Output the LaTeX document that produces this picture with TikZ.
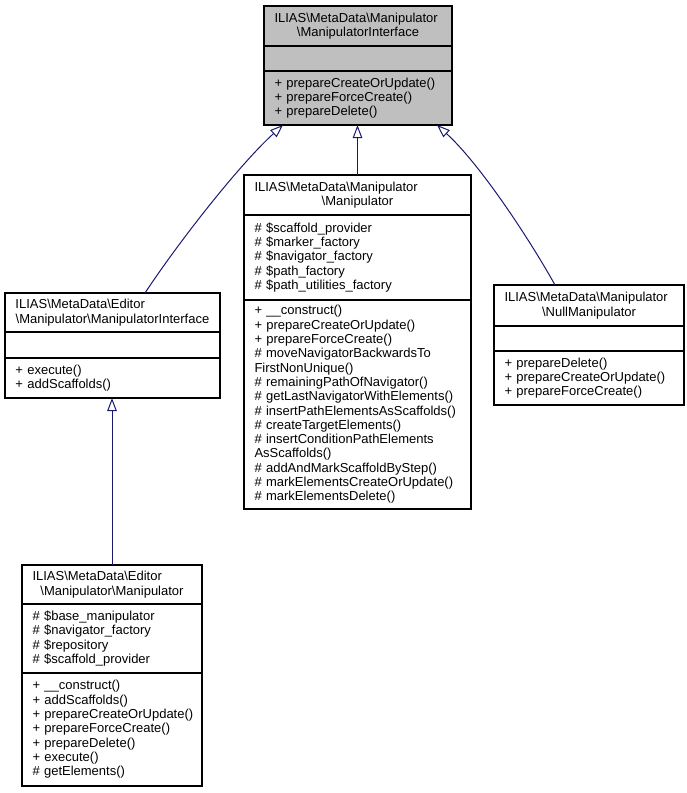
\documentclass[tikz,border=0pt]{standalone}
\usepackage{fontspec}
\setmainfont{Liberation Sans}
\usepackage{xcolor}
\usepackage{tikz}
\usetikzlibrary{positioning,arrows.meta}
\definecolor{umlGray}{RGB}{191, 191, 191}
\definecolor{umlEdge}{RGB}{25, 25, 112}
\newcommand{\umlfont}{\fontsize{13}{14.3}\selectfont\hyphenpenalty=10000\exhyphenpenalty=10000}
\newcommand{\umltitle}[2]{#1\\\makebox[\linewidth][c]{#2}}

\begin{document}
\begin{tikzpicture}[x=1pt, y=-1pt,
    umlpart/.style={draw=black, fill=white, line width=1.2pt, outer sep=0pt,
        inner xsep=10.5pt, inner ysep=0pt, align=left, font=\umlfont},
    umlhead/.style={umlpart, anchor=north},
    inherits/.style={draw=umlEdge, line width=1pt,
        -{Triangle[open, length=13pt, width=9.5pt, fill=white]}}]
        \useasboundingbox (0,0) rectangle (687,793);
        % Interface at the top (grey)
        \node[umlhead, fill=umlGray, text width=167pt, minimum height=40pt] (iface) at (358,6)
            {\umltitle{ILIAS\textbackslash MetaData\textbackslash Manipulator}{\textbackslash ManipulatorInterface}};
        \node[umlpart, fill=umlGray, text width=167pt, minimum height=25pt, below=0pt of iface] (ifaceAttr) {};
        \node[umlpart, fill=umlGray, text width=167pt, minimum height=54pt, below=0pt of ifaceAttr] (ifaceOps)
            {+~prepareCreateOrUpdate()\\+~prepareForceCreate()\\+~prepareDelete()};
        % Manipulator in the middle
        \node[umlhead, text width=206pt, minimum height=40pt] (manip) at (357.5,175)
            {\umltitle{ILIAS\textbackslash MetaData\textbackslash Manipulator}{\textbackslash Manipulator}};
        \node[umlpart, text width=206pt, minimum height=85pt, below=0pt of manip] (manipAttr)
            {\#~\$scaffold\_provider\\\#~\$marker\_factory\\\#~\$navigator\_factory\\\#~\$path\_factory\\\#~\$path\_utilities\_factory};
        \node[umlpart, text width=206pt, minimum height=209pt, below=0pt of manipAttr] (manipOps)
            {+~\_\_construct()\\+~prepareCreateOrUpdate()\\+~prepareForceCreate()\\\#~moveNavigatorBackwardsTo\\FirstNonUnique()\\\#~remainingPathOfNavigator()\\\#~getLastNavigatorWithElements()\\\#~insertPathElementsAsScaffolds()\\\#~createTargetElements()\\\#~insertConditionPathElements\\AsScaffolds()\\\#~addAndMarkScaffoldByStep()\\\#~markElementsCreateOrUpdate()\\\#~markElementsDelete()};
        % Editor interface on the left
        \node[umlhead, text width=194pt, minimum height=39pt] (edIface) at (112.5,293)
            {\umltitle{ILIAS\textbackslash MetaData\textbackslash Editor}{\textbackslash Manipulator\textbackslash ManipulatorInterface}};
        \node[umlpart, text width=194pt, minimum height=26pt, below=0pt of edIface] (edIfaceAttr) {};
        \node[umlpart, text width=194pt, minimum height=40pt, below=0pt of edIfaceAttr] (edIfaceOps)
            {+~execute()\\+~addScaffolds()};
        % Null manipulator on the right
        \node[umlhead, text width=169pt, minimum height=41pt] (nullManip) at (589,285)
            {\umltitle{ILIAS\textbackslash MetaData\textbackslash Manipulator}{\textbackslash NullManipulator}};
        \node[umlpart, text width=169pt, minimum height=25pt, below=0pt of nullManip] (nullManipAttr) {};
        \node[umlpart, text width=169pt, minimum height=54pt, below=0pt of nullManipAttr] (nullManipOps)
            {+~prepareDelete()\\+~prepareCreateOrUpdate()\\+~prepareForceCreate()};
        % Editor manipulator at the bottom left
        \node[umlhead, text width=159pt, minimum height=39pt] (edManip) at (112,565)
            {\umltitle{ILIAS\textbackslash MetaData\textbackslash Editor}{\textbackslash Manipulator\textbackslash Manipulator}};
        \node[umlpart, text width=159pt, minimum height=69pt, below=0pt of edManip] (edManipAttr)
            {\#~\$base\_manipulator\\\#~\$navigator\_factory\\\#~\$repository\\\#~\$scaffold\_provider};
        \node[umlpart, text width=159pt, minimum height=113pt, below=0pt of edManipAttr] (edManipOps)
            {+~\_\_construct()\\+~addScaffolds()\\+~prepareCreateOrUpdate()\\+~prepareForceCreate()\\+~prepareDelete()\\+~execute()\\\#~getElements()};
        % Inheritance arrows
        \draw[inherits] ([xshift=32.5pt]edIface.north) .. controls +(35,-53) and +(-43,39) .. ([xshift=-75pt]ifaceOps.south);
        \draw[inherits] (manip.north) -- (manip.north |- ifaceOps.south);
        \draw[inherits] ([xshift=-34pt]nullManip.north) .. controls +(-25,-45) and +(43,39) .. ([xshift=79pt]ifaceOps.south);
        \draw[inherits] (edManip.north) -- (edManip.north |- edIfaceOps.south);
    \end{tikzpicture}
\end{document}
